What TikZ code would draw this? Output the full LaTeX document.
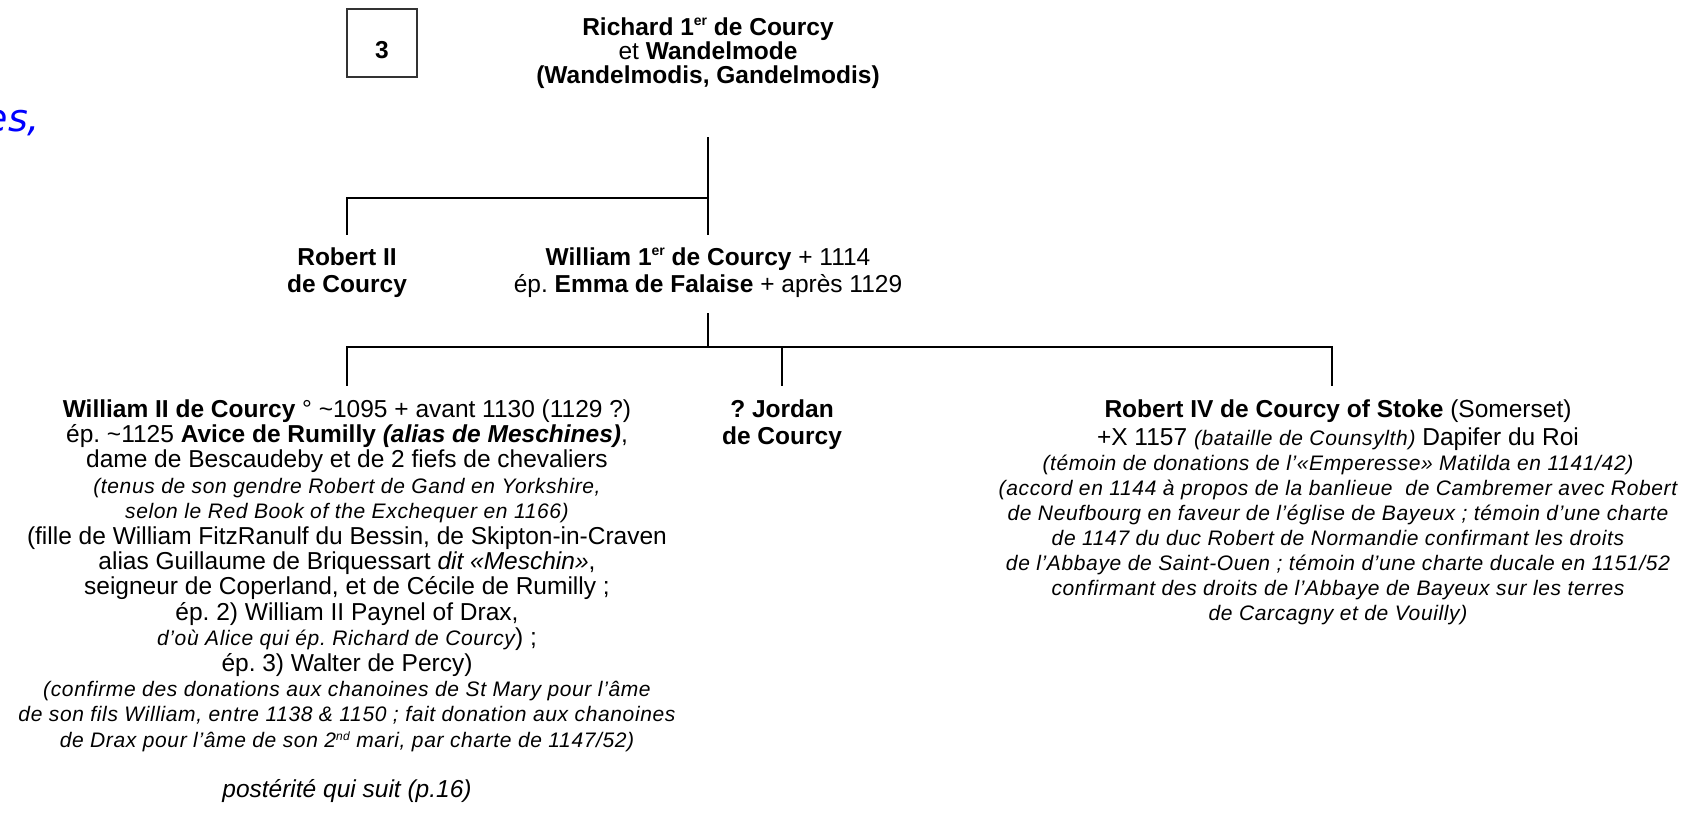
\documentclass[tikz,border=0pt]{standalone}
\usepackage{fontspec}
\setmainfont{Liberation Sans}
\newfontfamily\blufont{DejaVu Sans}
\newcommand\si{\fontsize{21}{24}\selectfont\itshape\addfontfeatures{LetterSpace=3}}
\newcommand\bi{\fontsize{24.5}{24}\selectfont\itshape}
\newcommand\fl{\rule{0pt}{21pt}}
\newcommand\sups[1]{\raisebox{9.5pt}{\fontsize{14}{14}\selectfont #1}}
\newcommand\supsi[1]{\raisebox{7pt}{\fontsize{12}{12}\selectfont #1}}
\newcommand\tightlines{\frenchspacing\lineskiplimit=-30pt\relax\lineskip=0pt\relax}
\begin{document}
\frenchspacing
\begin{tikzpicture}[x=1pt,y=-1pt,
  every node/.style={inner sep=0pt, outer sep=0pt},
  person/.style={align=center, anchor=north,
    font=\fontsize{24.5}{#1}\selectfont\tightlines},
  person/.default=24.5,
  link/.style={line width=2.2pt, black},
]
\useasboundingbox (0,0) rectangle (1702,830);

% fragment of text from the page
\node[anchor=base east, text=blue, font=\blufont\fontsize{38}{38}\selectfont\itshape] (frag) at (40,131) {es,};

% page number box
\node[draw=black!80, line width=1.3pt, minimum width=70pt, minimum height=68pt,
      text height=49pt, text depth=19pt, font=\fontsize{24.5}{26}\selectfont\bfseries] (box3) at (382,43) {3};

\node[person=24] (richard) at (708,14)
  {\fl\textbf{Richard 1\sups{er} de Courcy}\\
   et \textbf{Wandelmode}\\
   \textbf{(Wandelmodis, Gandelmodis)}};

\node[person=27] (robert2) at (347,244)
  {\fl\textbf{Robert II}\\ \textbf{de Courcy}};

\node[person=27] (william1) at (708,244)
  {\fl\textbf{William 1\sups{er} de Courcy} + 1114\\
   ép. \textbf{Emma de Falaise} + après 1129};

\node[person=27] (jordan) at (782,396)
  {\fl\textbf{? Jordan}\\ \textbf{de Courcy}};

\node[person=25.4] (william2) at (347,396)
  {\fl\textbf{William II de Courcy} ° \textasciitilde1095 + avant 1130 (1129 ?)\\
   ép. \textasciitilde1125 \textbf{Avice de Rumilly \textit{(alias de Meschines)}},\\
   dame de Bescaudeby et de 2 fiefs de chevaliers\\
   {\si (tenus de son gendre Robert de Gand en Yorkshire,}\\
   {\si selon le Red Book of the Exchequer en 1166)}\\
   (fille de William FitzRanulf du Bessin, de Skipton-in-Craven\\
   alias Guillaume de Briquessart \textit{dit «Meschin»},\\
   seigneur de Coperland, et de Cécile de Rumilly ;\\
   ép. 2) William II Paynel of Drax,\\
   {\si d’où Alice qui ép. Richard de Courcy}) ;\\
   ép. 3) Walter de Percy)\\
   {\si (confirme des donations aux chanoines de St Mary pour l’âme}\\
   {\si de son fils William, entre 1138 \& 1150 ; fait donation aux chanoines}\\
   {\si de Drax pour l’âme de son 2\supsi{nd} mari, par charte de 1147/52)}};

\node[anchor=base, font=\bi] (suite) at (347,797) {postérité qui suit (p.16)};

\node[person=25] (robert4) at (1338,396)
  {\fl\textbf{Robert IV de Courcy of Stoke} (Somerset)\\[3pt]
   +X 1157 {\si (bataille de Counsylth)} Dapifer du Roi\\
   {\si (témoin de donations de l’«Emperesse» Matilda en 1141/42)}\\
   {\si (accord en 1144 à propos de la banlieue\ \ de Cambremer avec Robert}\\
   {\si de Neufbourg en faveur de l’église de Bayeux ; témoin d’une charte}\\
   {\si de 1147 du duc Robert de Normandie confirmant les droits}\\
   {\si de l’Abbaye de Saint-Ouen ; témoin d’une charte ducale en 1151/52}\\
   {\si confirmant des droits de l’Abbaye de Bayeux sur les terres}\\
   {\si de Carcagny et de Vouilly)}};

% junction points
\coordinate (r0) at (708,137);
\coordinate (r1) at (708,198);
\coordinate (w0) at (708,313);
\coordinate (w1) at (708,347);

% connectors
\draw[link] (r0) -- ([yshift=9pt]william1.north);
\draw[link] (r1) -| ([yshift=9pt]robert2.north);
\draw[link] (w0) -- (w1);
\draw[link] (w1) -| ([yshift=10pt]william2.north);
\draw[link] (w1) -| ([xshift=-6pt,yshift=10pt]robert4.north);
\draw[link] (w1 -| jordan.north) -- ([yshift=10pt]jordan.north);
\end{tikzpicture}
\end{document}
